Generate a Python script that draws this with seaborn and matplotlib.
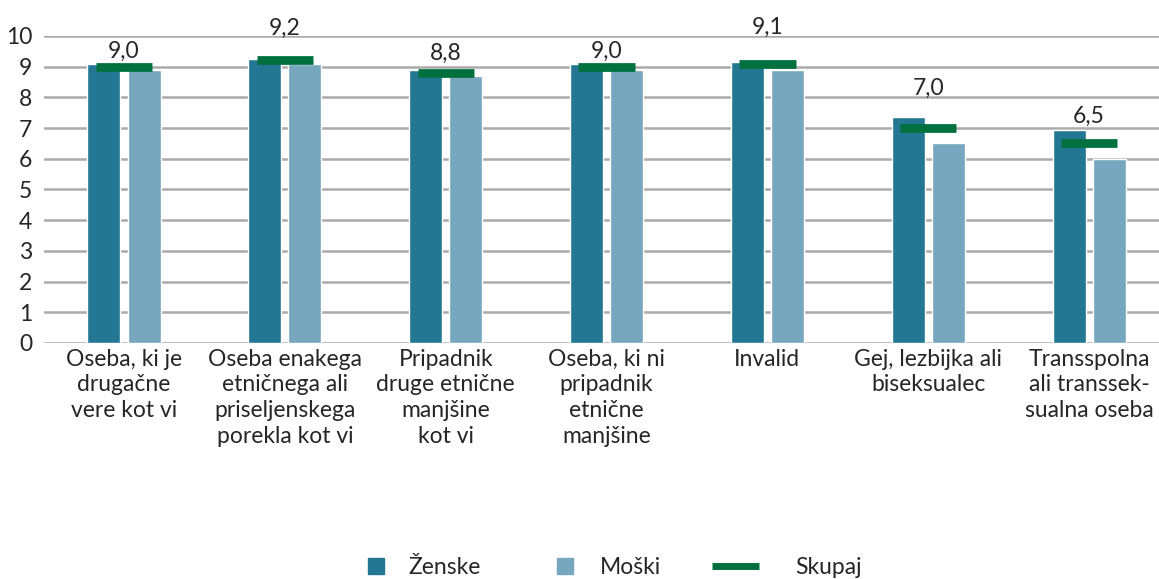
import matplotlib
matplotlib.use("Agg")
import matplotlib.pyplot as plt
import numpy as np
import pandas as pd
import seaborn as sb
from matplotlib.lines import Line2D

# data
categories = ["Oseba, ki je\ndrugačne\nvere kot vi",
              "Oseba enakega\netničnega ali\npriseljenskega\nporekla kot vi",
              "Pripadnik\ndruge etnične\nmanjšine\nkot vi",
              "Oseba, ki ni\npripadnik\netnične\nmanjšine",
              "Invalid",
              "Gej, lezbijka ali\nbiseksualec",
              "Transspolna\nali transsek-\nsualna oseba"]
zenske = [9.1, 9.25, 8.9, 9.1, 9.15, 7.35, 6.95]
moski = [8.9, 9.1, 8.7, 8.9, 8.9, 6.5, 6.0]
skupaj = [9.0, 9.2, 8.8, 9.0, 9.1, 7.0, 6.5]
labels = ["9,0", "9,2", "8,8", "9,0", "9,1", "7,0", "6,5"]
# how far above the Skupaj mark each label sits (layout only)
label_lift = [0.51, 1.05, 0.63, 0.51, 1.18, 1.3, 0.88]

c_z = "#237793"
c_m = "#77a6bf"
c_s = "#00703f"
fs = 16.5

df = pd.DataFrame({"kat": categories * 2,
                   "val": zenske + moski,
                   "spol": ["Ženske"] * len(categories) + ["Moški"] * len(categories)})

sb.set_style("white")
plt.rcParams["font.family"] = ["Lato", "DejaVu Sans"]

fig = plt.figure(figsize=(11.59, 5.79), dpi=100)
ax = fig.add_axes([0.0376, 0.4076, 0.9715, 0.5304])

sb.barplot(data=df, x="kat", y="val", hue="spol", palette=[c_z, c_m],
           width=0.5, gap=0.18, saturation=1, ax=ax, legend=False, zorder=3)

x = np.arange(len(categories))
ax.hlines(skupaj, x - 0.175, x + 0.175, color=c_s, linewidth=6.3, zorder=4,
          capstyle="butt")
for xi, v, t, d in zip(x, skupaj, labels, label_lift):
    ax.text(xi, v + d, t, ha="center", va="center", fontsize=fs, clip_on=False)

ax.set_ylim(0, 10)
ax.set_xlim(-0.5, len(categories) - 0.5)
ax.set_yticks(range(0, 11))
ax.set_xticks(x)
ax.set_xticklabels(categories, linespacing=1.28)
ax.yaxis.grid(True, color="#aaaaaa", linewidth=1.8, zorder=0)
ax.set_axisbelow(True)
for s in ax.spines.values():
    s.set_visible(False)
ax.tick_params(axis="both", length=0, labelsize=fs)
ax.tick_params(axis="x", pad=4)
ax.tick_params(axis="y", pad=8)
ax.set_xlabel("")
ax.set_ylabel("")

# legend: one entry each, placed like the original
entries = [
    (Line2D([], [], marker="s", linestyle="", markersize=12, color=c_z), "Ženske", 0.3167, 0.8, 1.0),
    (Line2D([], [], marker="s", linestyle="", markersize=12, color=c_m), "Moški", 0.4797, 0.8, 1.1),
    (Line2D([], [], color=c_s, linewidth=5, solid_capstyle="butt"), "Skupaj", 0.6143, 2.05, 1.6),
]
for h, name, xpos, hl, pad in entries:
    fig.legend([h], [name], loc="center left", bbox_to_anchor=(xpos, 0.019),
               frameon=False, fontsize=fs, handlelength=hl, handletextpad=pad,
               borderpad=0, borderaxespad=0)

fig.savefig("out.png", dpi=100)
